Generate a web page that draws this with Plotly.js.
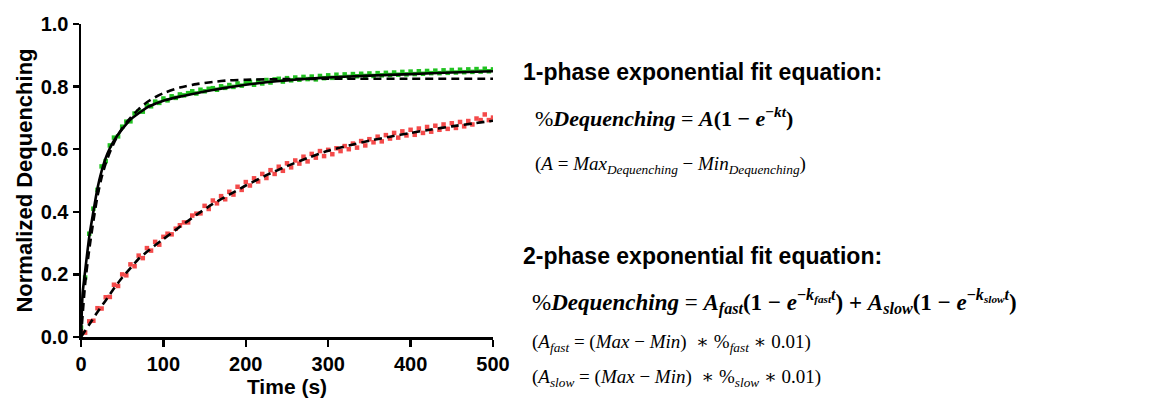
<!DOCTYPE html>
<html>
<head>
<meta charset="utf-8">
<script src="https://cdn.plot.ly/plotly-3.0.1.min.js"></script>
<style>html,body{margin:0;padding:0;background:#fff;}#chart{width:1162px;height:398px;}</style>
</head>
<body>
<div id="chart"></div>
<script>
// ---- data ----
const dataTime = [0,5,10,15,20,25,30,35,40,45,50,55,60,65,70,75,80,85,90,95,100,105,110,115,120,125,130,135,140,145,150,155,160,165,170,175,180,185,190,195,200,205,210,215,220,225,230,235,240,245,250,255,260,265,270,275,280,285,290,295,300,305,310,315,320,325,330,335,340,345,350,355,360,365,370,375,380,385,390,395,400,405,410,415,420,425,430,435,440,445,450,455,460,465,470,475,480,485,490,495,500];

const greenData = [
  0.03,0.19,0.33,0.41,0.47,0.545,0.562,0.612,0.637,0.641,
  0.672,0.688,0.689,0.714,0.721,0.72,0.741,0.737,0.752,0.748,
  0.762,0.756,0.769,0.764,0.775,0.772,0.779,0.785,0.778,0.79,
  0.785,0.793,0.795,0.79,0.801,0.796,0.805,0.799,0.81,0.803,
  0.812,0.815,0.806,0.818,0.81,0.821,0.813,0.823,0.825,0.816,
  0.827,0.82,0.829,0.822,0.831,0.824,0.832,0.823,0.834,0.827,
  0.836,0.828,0.838,0.829,0.839,0.831,0.84,0.833,0.841,0.834,
  0.842,0.834,0.843,0.836,0.844,0.837,0.845,0.838,0.847,0.839,
  0.848,0.84,0.849,0.841,0.85,0.843,0.851,0.843,0.852,0.844,
  0.853,0.845,0.854,0.846,0.855,0.847,0.856,0.848,0.857,0.849,
  0.855];

const redData = [
  0.012,0.014,0.05,0.052,0.092,0.091,0.127,0.128,0.167,0.163,
  0.2,0.197,0.232,0.226,0.26,0.252,0.284,0.276,0.304,0.295,
  0.32,0.33,0.328,0.346,0.357,0.366,0.366,0.388,0.394,0.395,
  0.419,0.409,0.436,0.427,0.45,0.44,0.464,0.455,0.48,0.47,
  0.495,0.484,0.507,0.497,0.521,0.508,0.533,0.521,0.544,0.531,
  0.555,0.542,0.564,0.554,0.576,0.561,0.585,0.573,0.594,0.578,
  0.598,0.584,0.603,0.594,0.61,0.6,0.618,0.605,0.626,0.612,
  0.632,0.622,0.64,0.625,0.645,0.634,0.652,0.637,0.657,0.644,
  0.662,0.646,0.666,0.652,0.671,0.656,0.675,0.662,0.679,0.665,
  0.683,0.668,0.687,0.673,0.69,0.679,0.698,0.693,0.711,0.693,
  0.701];

// fit curves
const greenFit2Time = [0,2,5,10,15,20,25,30,35,40,45,50,55,60,70,80,90,100,120,140,160,180,200,225,250,275,300,350,400,450,500];
const greenFit2 = [0,0.14,0.21,0.32,0.40,0.475,0.53,0.572,0.603,0.627,0.647,0.664,0.68,0.695,0.715,0.733,0.745,0.755,0.768,0.779,0.789,0.798,0.806,0.814,0.820,0.825,0.829,0.835,0.840,0.845,0.849];

const greenFit1Time = [0,5,10,15,20,25,30,35,40,45,50,55,60,70,80,90,100,120,140,160,180,200,250,300,400,500];
const greenFit1 = [0,0.17,0.28,0.37,0.45,0.51,0.555,0.59,0.62,0.645,0.667,0.685,0.70,0.728,0.75,0.766,0.779,0.797,0.808,0.815,0.82,0.822,0.824,0.825,0.825,0.825];

const redFitTime = [0,10,20,30,40,50,60,70,80,90,100,120,140,160,180,200,225,250,275,300,325,350,375,400,425,450,475,500];
const redFit = [0,0.04,0.08,0.117,0.155,0.19,0.22,0.25,0.272,0.293,0.313,0.352,0.39,0.425,0.455,0.484,0.517,0.546,0.572,0.595,0.612,0.627,0.640,0.652,0.663,0.673,0.682,0.691];

const xTicks = [0,100,200,300,400,500];
const yTicks = [0,0.2,0.4,0.6,0.8,1.0];

// ---- layout helpers (pixel -> paper) ----
const L = 81, R = 493, T = 24, B = 337;
const px = x => (x - L) / (R - L);
const py = y => (B - y) / (B - T);

const traces = [
  {x: dataTime, y: greenData, mode: 'markers',
   marker: {color: '#22c322', size: 4.5, symbol: 'square'}, hoverinfo: 'skip'},
  {x: dataTime, y: redData, mode: 'markers',
   marker: {color: '#f44a4a', size: 4.5, symbol: 'square'}, hoverinfo: 'skip'},
  {x: greenFit2Time, y: greenFit2, mode: 'lines', line: {color: '#000', width: 2.6, shape: 'spline', smoothing: 0.6}},
  {x: greenFit1Time, y: greenFit1, mode: 'lines', line: {color: '#000', width: 2.6, dash: '8px,5px', shape: 'spline', smoothing: 0.6}},
  {x: redFitTime, y: redFit, mode: 'lines', line: {color: '#000', width: 2.6, dash: '8px,5px', shape: 'spline', smoothing: 0.6}}
];

const serif = 'Liberation Serif, DejaVu Serif, serif';
const sans = 'Liberation Sans, Arial, sans-serif';

const ann = (text, x, y, size, family) => ({
  text: text, xref: 'paper', yref: 'paper', x: px(x), y: py(y),
  xanchor: 'left', yanchor: 'middle', showarrow: false,
  font: {family: family, size: size, color: '#000'}
});

const annotations = [
  ann('<b>1-phase exponential fit equation:</b>', 521, 72, 23, sans),
  ann('%<b><i>Dequenching</i></b> = <b><i>A</i>(1 − <i>e</i><sup>−<i>kt</i></sup>)</b>', 533, 117, 22, serif),
  ann('(<i>A</i> = <i>Max</i><sub><i>Dequenching</i></sub> − <i>Min</i><sub><i>Dequenching</i></sub>)', 533, 165, 19, serif),
  ann('<b>2-phase exponential fit equation:</b>', 521, 256, 23, sans),
  ann('%<b><i>Dequenching</i></b> = <b><i>A</i></b><sub><b><i>fast</i></b></sub><b>(1 − <i>e</i></b><sup><b>−<i>k<sub>fast</sub>t</i></b></sup><b>) + <i>A</i></b><sub><b><i>slow</i></b></sub><b>(1 − <i>e</i></b><sup><b>−<i>k<sub>slow</sub>t</i></b></sup><b>)</b>', 530, 302, 23, serif),
  ann('(<i>A</i><sub><i>fast</i></sub> = (<i>Max</i> − <i>Min</i>)  ∗ %<sub><i>fast</i></sub> ∗ 0.01)', 530, 343, 19, serif),
  ann('(<i>A</i><sub><i>slow</i></sub> = (<i>Max</i> − <i>Min</i>)  ∗ %<sub><i>slow</i></sub> ∗ 0.01)', 530, 378, 19, serif)
];

const layout = {
  width: 1162, height: 398,
  margin: {l: L, r: 1162 - R, t: T, b: 398 - B},
  paper_bgcolor: '#fff', plot_bgcolor: '#fff',
  showlegend: false,
  xaxis: {
    range: [0, 500], tickvals: xTicks, ticktext: xTicks.map(String),
    showgrid: false, zeroline: false, showline: true, linecolor: '#000', linewidth: 2.5,
    ticks: 'outside', ticklen: 7, tickwidth: 2.5, tickcolor: '#000',
    tickfont: {family: sans, size: 20, color: '#000', weight: 'bold'},
    title: {text: '<b>Time (s)</b>', font: {family: sans, size: 21, color: '#000'}, standoff: 6}
  },
  yaxis: {
    range: [0, 1.0], tickvals: yTicks, ticktext: yTicks.map(v => v.toFixed(1)),
    showgrid: false, zeroline: false, showline: true, linecolor: '#000', linewidth: 2.5,
    ticks: 'outside', ticklen: 6, tickwidth: 2.5, tickcolor: '#000',
    tickfont: {family: sans, size: 20, color: '#000', weight: 'bold'},
    title: {text: '<b>Normalized Dequenching</b>', font: {family: sans, size: 22, color: '#000'}, standoff: 2}
  },
  annotations: annotations
};

Plotly.newPlot('chart', traces, layout, {staticPlot: true, displayModeBar: false});
</script>
</body>
</html>
